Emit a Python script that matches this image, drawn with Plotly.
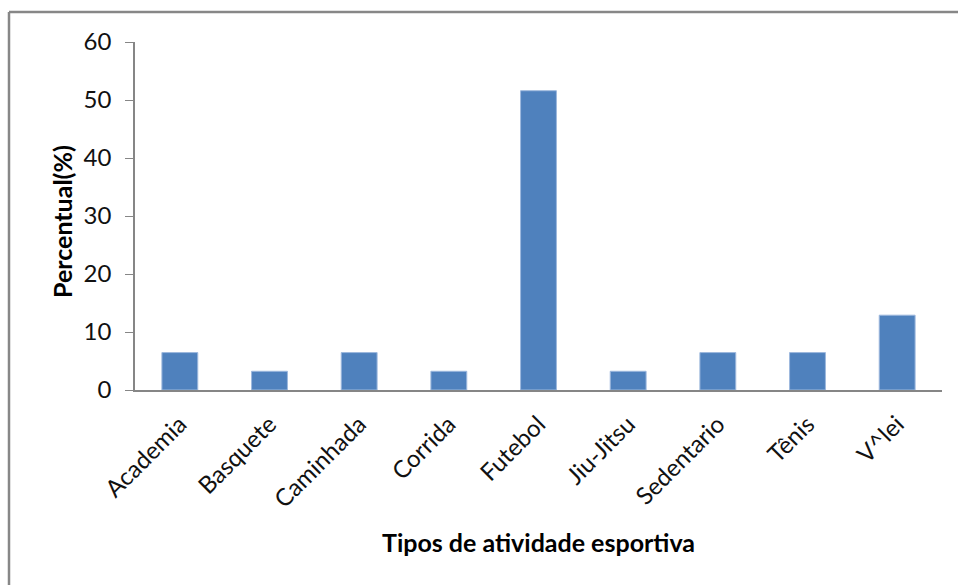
import plotly.graph_objects as go

categories = ["Academia", "Basquete", "Caminhada", "Corrida", "Futebol",
              "Jiu-Jitsu", "Sedentario", "Tênis", "V^lei"]
values = [6.45, 3.23, 6.45, 3.23, 51.6, 3.23, 6.45, 6.45, 12.9]
y_ticks = [0, 10, 20, 30, 40, 50, 60]

W, H = 958, 585
ml, mr, mt, mb = 135, 16, 42, 195
pw, ph = W - ml - mr, H - mt - mb

def px_x(x):
    return (x - ml) / pw

def px_y(y_top):
    return (H - mb - y_top) / ph

font_family = "Lato, 'Open Sans', sans-serif"

fig = go.Figure(go.Bar(
    x=categories, y=values, width=0.4,
    marker=dict(color="#4F81BD", line=dict(color="#9DB8DD", width=1)),
))

fig.update_layout(
    width=W, height=H,
    margin=dict(l=ml, r=mr, t=mt, b=mb),
    paper_bgcolor="white", plot_bgcolor="white",
    showlegend=False,
    font=dict(family=font_family, color="#000000"),
    xaxis=dict(
        showline=True, linecolor="#868686", linewidth=1.5, automargin=False,
        ticks="", tickangle=-45, tickfont=dict(size=24, color="#111"),
        showgrid=False, zeroline=False, ticklabelstandoff=9,
    ),
    yaxis=dict(
        range=[0, 60], tickvals=y_ticks, showline=True, linecolor="#868686",
        linewidth=1.5, ticks="outside", ticklen=8, tickcolor="#868686",
        automargin=False, ticklabelstandoff=9,
        tickfont=dict(size=24, color="#111"), showgrid=False, zeroline=False,
    ),
    annotations=[
        dict(text="<b>Percentual(%)</b>", xref="paper", yref="paper",
             x=px_x(62), y=px_y(222), textangle=-90, showarrow=False,
             font=dict(size=25, color="#000"), xanchor="center", yanchor="middle"),
        dict(text="<b>Tipos de atividade esportiva</b>", xref="paper", yref="paper",
             x=0.5, y=px_y(542), showarrow=False,
             font=dict(size=25, color="#000"), xanchor="center", yanchor="middle"),
    ],
    shapes=[
        dict(type="line", xref="paper", yref="paper",
             x0=px_x(9), x1=px_x(9), y0=px_y(600), y1=px_y(12),
             line=dict(color="#878787", width=2.5)),
        dict(type="line", xref="paper", yref="paper",
             x0=px_x(9), x1=px_x(970), y0=px_y(12), y1=px_y(12),
             line=dict(color="#878787", width=2.5)),
    ],
)

fig.write_html("out.html")
